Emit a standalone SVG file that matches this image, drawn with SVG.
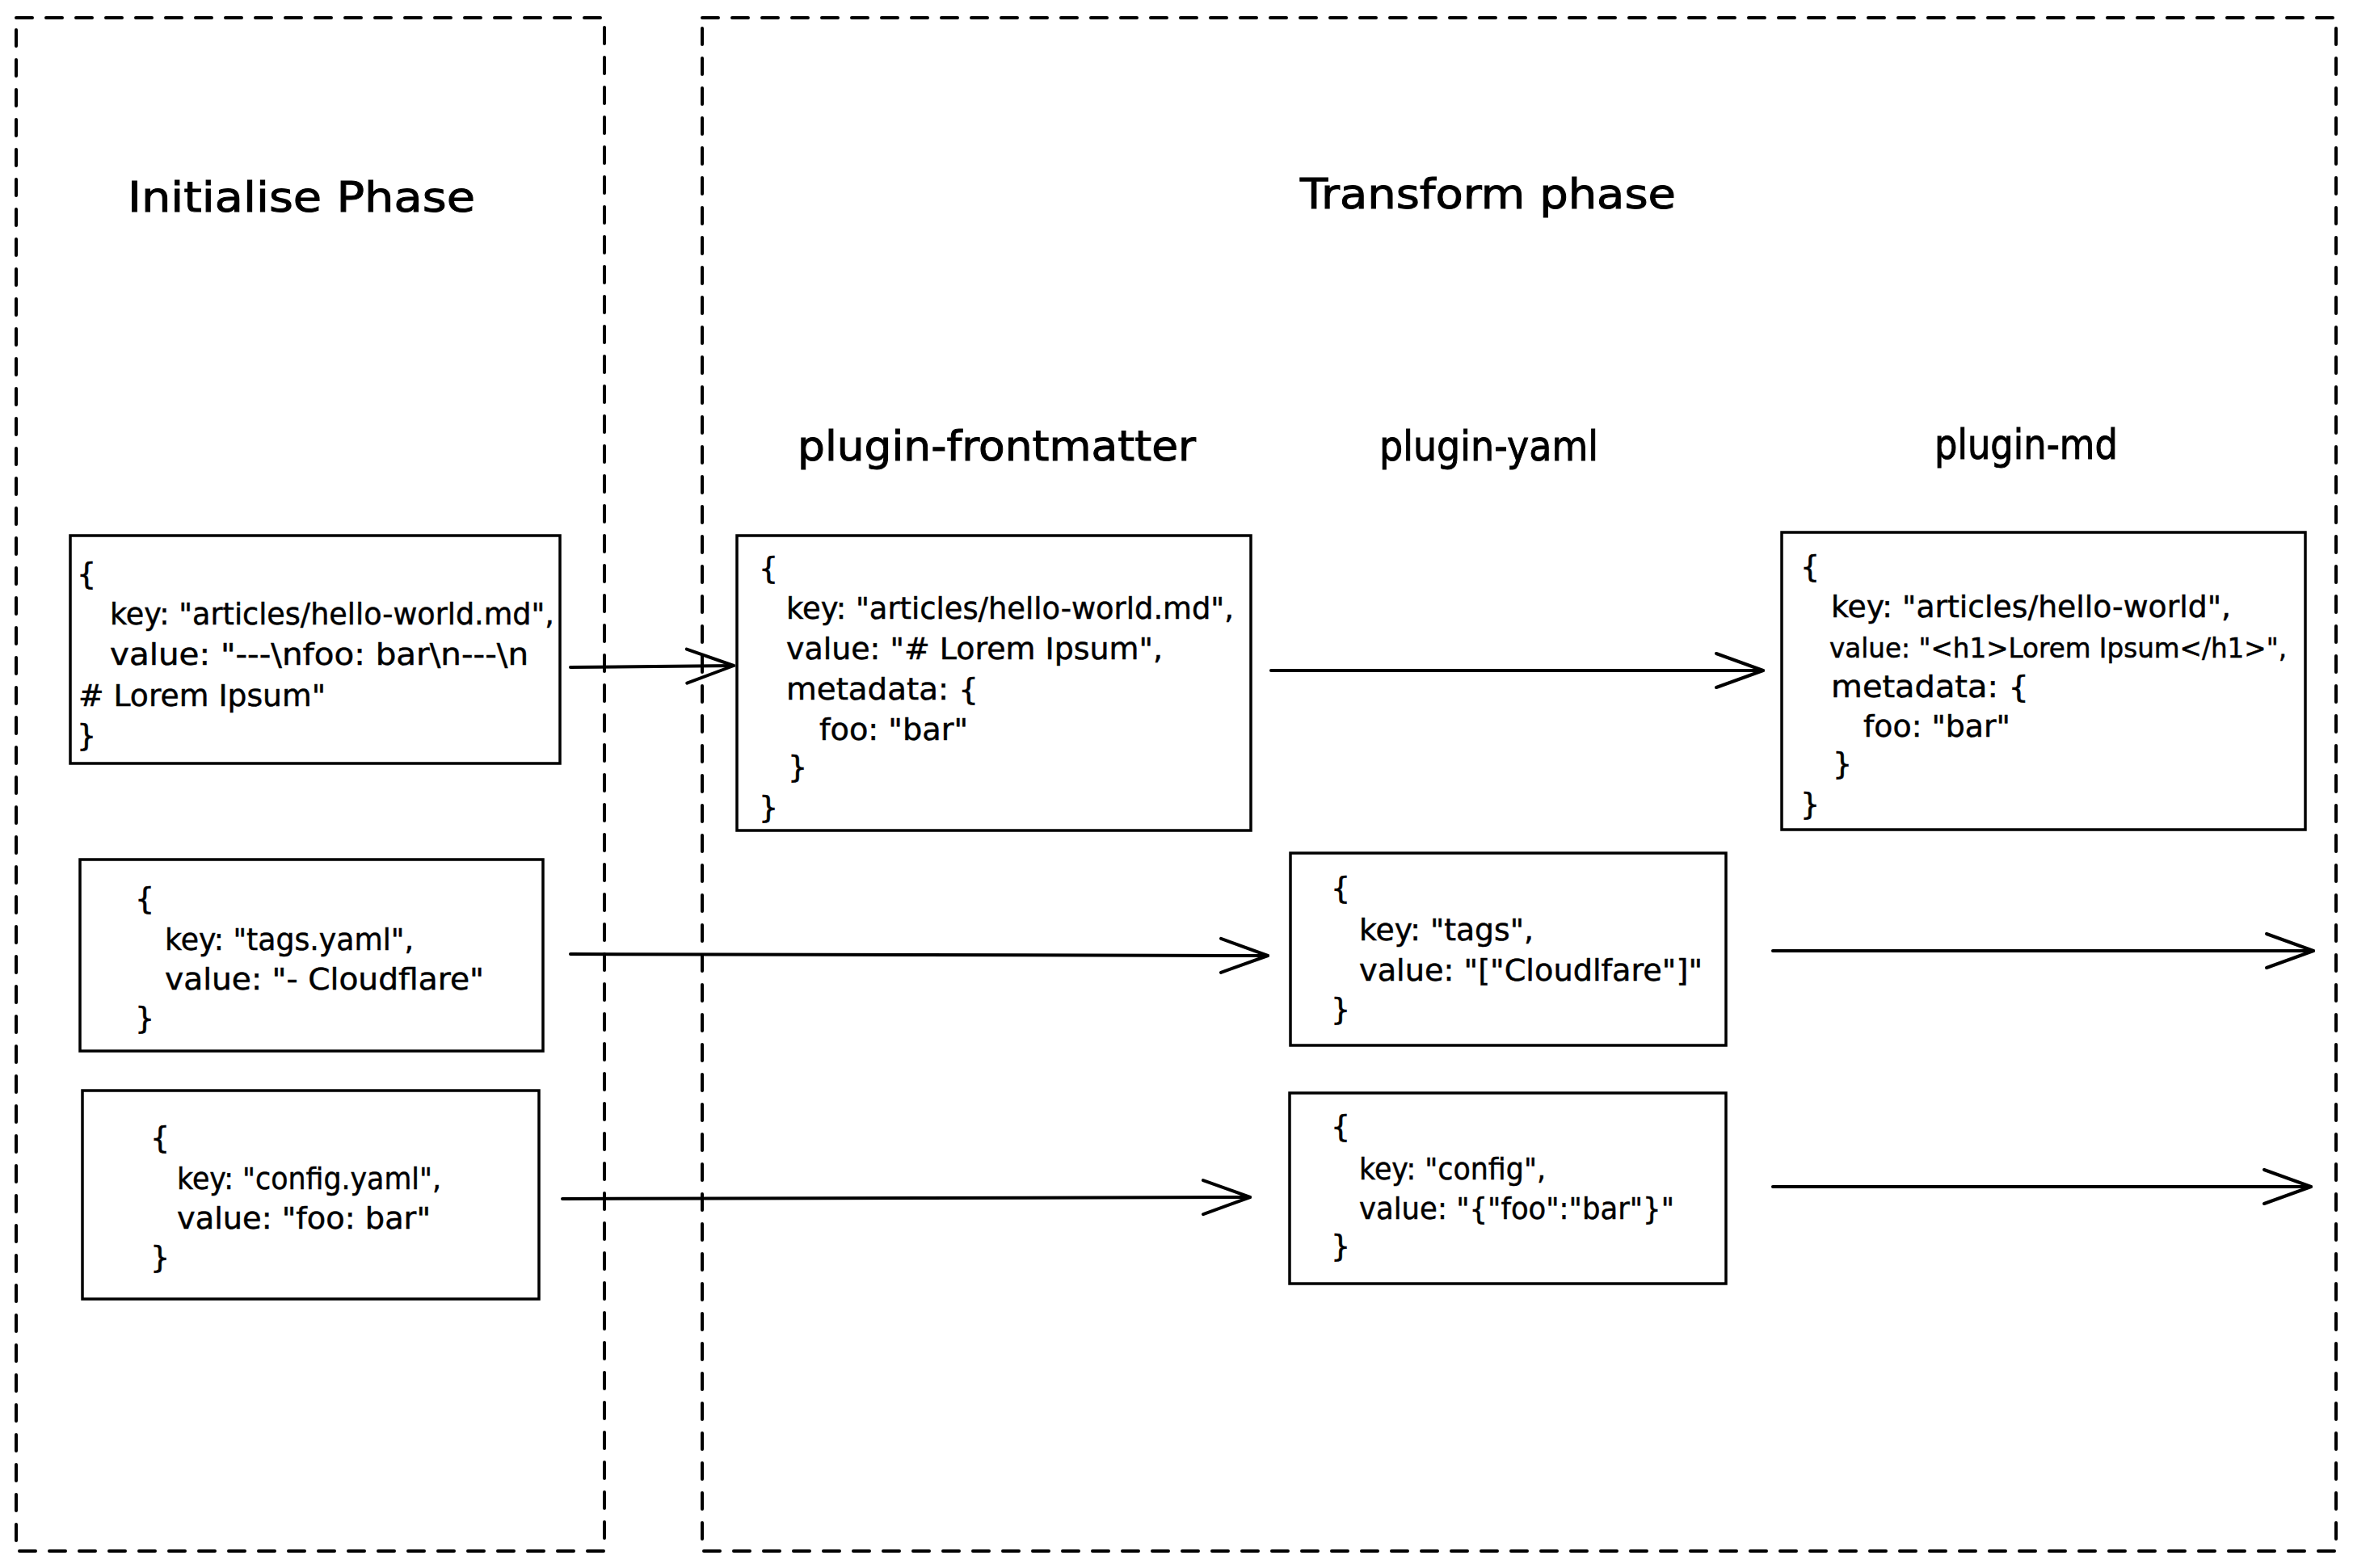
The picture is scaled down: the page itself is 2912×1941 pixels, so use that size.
<svg xmlns="http://www.w3.org/2000/svg" width="2912" height="1941" viewBox="0 0 2912 1941">
<style>
.bg{fill:#ffffff}
.phase{fill:none;stroke:#000;stroke-width:4;stroke-dasharray:20 17;stroke-linecap:round}
.box{fill:none;stroke:#000;stroke-width:3.5}
.t{font-family:"DejaVu Sans","Liberation Sans",sans-serif;font-size:38px;fill:#000;stroke:#000;stroke-width:0.5}
.tn{font-size:33px}
.h{font-family:"DejaVu Sans","Liberation Sans",sans-serif;font-size:52px;fill:#000;stroke:#000;stroke-width:1}
.conn{fill:none;stroke:#000;stroke-width:4;stroke-linecap:round}
</style>
<defs>
<marker id="arr" markerUnits="userSpaceOnUse" markerWidth="80" markerHeight="60" viewBox="-70 -30 80 60" refX="0" refY="0" orient="auto">
<path d="M -58 -21 L 0 0 L -58 21" fill="none" stroke="#000" stroke-width="4" stroke-linecap="round" stroke-linejoin="round"/>
</marker>
</defs>
<rect class="bg" x="0" y="0" width="2912" height="1941"/>

<g id="initialise-phase">
<rect class="phase" x="20" y="22" width="728" height="1898"/>
<text class="h" x="158" y="262" textLength="430" lengthAdjust="spacingAndGlyphs">Initialise Phase</text>
</g>
<g id="transform-phase">
<rect class="phase" x="869" y="22" width="2022" height="1898"/>
<text class="h" x="1609" y="258" textLength="465" lengthAdjust="spacingAndGlyphs">Transform phase</text>
</g>
<g id="label-frontmatter"><text class="h" x="987" y="570" textLength="493" lengthAdjust="spacingAndGlyphs">plugin-frontmatter</text></g>
<g id="label-yaml"><text class="h" x="1707" y="570" textLength="271" lengthAdjust="spacingAndGlyphs">plugin-yaml</text></g>
<g id="label-md"><text class="h" x="2394" y="568" textLength="227" lengthAdjust="spacingAndGlyphs">plugin-md</text></g>

<g id="init-article">
<rect class="box" x="87" y="663" width="606" height="282"/>
<text class="t" x="95" y="723">{</text>
<text class="t" x="136" y="773" textLength="550" lengthAdjust="spacingAndGlyphs">key: "articles/hello-world.md",</text>
<text class="t" x="136" y="823" textLength="518" lengthAdjust="spacingAndGlyphs">value: "---\nfoo: bar\n---\n</text>
<text class="t" x="97" y="874" textLength="306" lengthAdjust="spacingAndGlyphs"># Lorem Ipsum"</text>
<text class="t" x="95" y="923">}</text>
</g>

<g id="init-tags">
<rect class="box" x="99" y="1064" width="573" height="237"/>
<text class="t" x="167" y="1125">{</text>
<text class="t" x="204" y="1176" textLength="308" lengthAdjust="spacingAndGlyphs">key: "tags.yaml",</text>
<text class="t" x="204" y="1225" textLength="395" lengthAdjust="spacingAndGlyphs">value: "- Cloudflare"</text>
<text class="t" x="167" y="1273">}</text>
</g>

<g id="init-config">
<rect class="box" x="102" y="1350" width="565" height="258"/>
<text class="t" x="186" y="1421">{</text>
<text class="t" x="219" y="1472" textLength="327" lengthAdjust="spacingAndGlyphs">key: "config.yaml",</text>
<text class="t" x="219" y="1521" textLength="314" lengthAdjust="spacingAndGlyphs">value: "foo: bar"</text>
<text class="t" x="186" y="1569">}</text>
</g>

<g id="frontmatter-article">
<rect class="box" x="912" y="663" width="636" height="365"/>
<text class="t" x="939" y="716">{</text>
<text class="t" x="973" y="766" textLength="554" lengthAdjust="spacingAndGlyphs">key: "articles/hello-world.md",</text>
<text class="t" x="973" y="816" textLength="466" lengthAdjust="spacingAndGlyphs">value: "# Lorem Ipsum",</text>
<text class="t" x="973" y="866" textLength="238" lengthAdjust="spacingAndGlyphs">metadata: {</text>
<text class="t" x="1014" y="916" textLength="184" lengthAdjust="spacingAndGlyphs">foo: "bar"</text>
<text class="t" x="975" y="962">}</text>
<text class="t" x="939" y="1012">}</text>
</g>

<g id="yaml-tags">
<rect class="box" x="1597" y="1056" width="539" height="238"/>
<text class="t" x="1647" y="1112">{</text>
<text class="t" x="1682" y="1164" textLength="216" lengthAdjust="spacingAndGlyphs">key: "tags",</text>
<text class="t" x="1682" y="1214" textLength="425" lengthAdjust="spacingAndGlyphs">value: "["Cloudlfare"]"</text>
<text class="t" x="1647" y="1262">}</text>
</g>

<g id="yaml-config">
<rect class="box" x="1596" y="1353" width="540" height="236"/>
<text class="t" x="1647" y="1407">{</text>
<text class="t" x="1682" y="1460" textLength="231" lengthAdjust="spacingAndGlyphs">key: "config",</text>
<text class="t" x="1682" y="1509" textLength="390" lengthAdjust="spacingAndGlyphs">value: "{"foo":"bar"}"</text>
<text class="t" x="1647" y="1555">}</text>
</g>

<g id="md-article">
<rect class="box" x="2205" y="659" width="648" height="368"/>
<text class="t" x="2228" y="714">{</text>
<text class="t" x="2266" y="764" textLength="495" lengthAdjust="spacingAndGlyphs">key: "articles/hello-world",</text>
<text class="t tn" x="2264" y="814" textLength="566" lengthAdjust="spacingAndGlyphs">value: "&lt;h1&gt;Lorem Ipsum&lt;/h1&gt;",</text>
<text class="t" x="2266" y="863" textLength="245" lengthAdjust="spacingAndGlyphs">metadata: {</text>
<text class="t" x="2306" y="912" textLength="182" lengthAdjust="spacingAndGlyphs">foo: "bar"</text>
<text class="t" x="2268" y="958">}</text>
<text class="t" x="2228" y="1008">}</text>
</g>

<g id="connectors">
<path class="conn" d="M 706 826 L 908 824" marker-end="url(#arr)"/>
<path class="conn" d="M 1573 830 L 2182 830" marker-end="url(#arr)"/>
<path class="conn" d="M 706 1181 L 1569 1183" marker-end="url(#arr)"/>
<path class="conn" d="M 696 1484 L 1547 1482" marker-end="url(#arr)"/>
<path class="conn" d="M 2194 1177 L 2863 1177" marker-end="url(#arr)"/>
<path class="conn" d="M 2194 1469 L 2860 1469" marker-end="url(#arr)"/>
</g>
</svg>
